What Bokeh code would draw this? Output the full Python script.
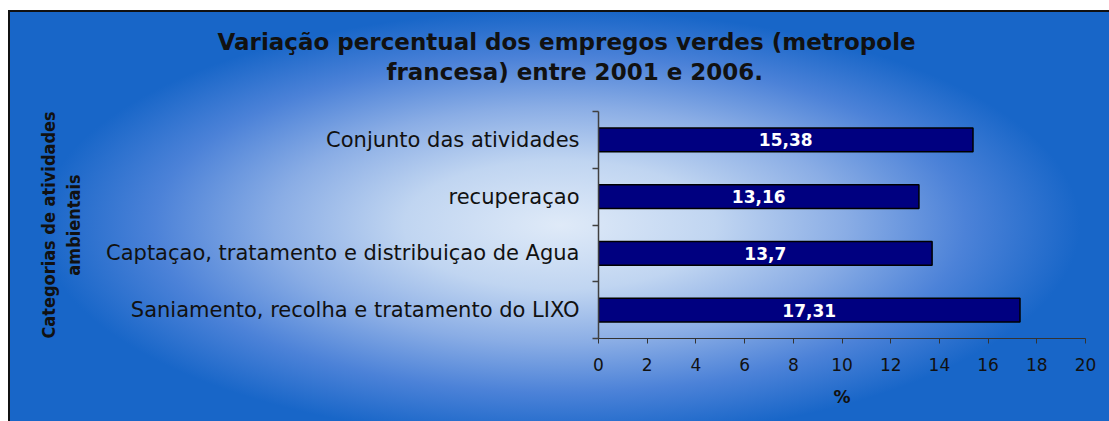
import math
from bokeh.plotting import figure
from bokeh.models import Range1d, FixedTicker, Title, ColumnDataSource
from bokeh.embed import file_html
from bokeh.resources import INLINE
from bokeh.core.properties import value

# ---- data ----
categories = [
    "Conjunto das atividades",
    "recuperaçao",
    "Captaçao, tratamento e distribuiçao de Agua",
    "Saniamento, recolha e tratamento do LIXO",
]
values = [15.38, 13.16, 13.7, 17.31]
value_labels = ["15,38", "13,16", "13,7", "17,31"]
x_ticks = [0, 2, 4, 6, 8, 10, 12, 14, 16, 18, 20]
title_lines = ["Variação percentual dos empregos verdes (metropole",
               "francesa) entre 2001 e 2006."]
y_title = "Categorias de atividades\nambientais"
x_title = "%"

n = len(categories)
ys = [n - 0.5 - i for i in range(n)]
src = ColumnDataSource(dict(y=ys, v=values, half=[v / 2 for v in values], lab=value_labels))

FONT = "DejaVu Sans"

p = figure(width=1101, height=411, output_backend="svg", toolbar_location=None,
           x_range=Range1d(0, 20), y_range=Range1d(0, n),
           min_border_left=590, min_border_right=24, min_border_top=101, min_border_bottom=83)
p.background_fill_alpha = 0
p.border_fill_alpha = 0
p.outline_line_color = None
p.xgrid.visible = False
p.ygrid.visible = False
p.styles = {
    "background-image": "radial-gradient(ellipse 520px 215px at 552px 215px, #dfeaf8 0%, #c0d5f1 30%, #8aade5 55%, #4c82d8 78%, #1866c8 100%)",
    "background-color": "#1866c8",
    "box-shadow": "inset 2px 2px 0 #111111",
    "margin-top": "10px",
    "margin-left": "8px",
}

p.hbar(y="y", right="v", left=0, height=0.42, fill_color="#000080",
       line_color="#000000", line_width=1.5, source=src)
p.text(x="half", y="y", text="lab", text_color="white", text_font=value(FONT),
       text_font_style="bold", text_font_size="17px", text_align="center",
       text_baseline="middle", source=src)

ya = p.yaxis[0]
ya.ticker = FixedTicker(ticks=ys, minor_ticks=list(range(n + 1)))
ya.major_label_overrides = {y: c for y, c in zip(ys, categories)}
ya.major_tick_out = 0
ya.major_tick_in = 0
ya.minor_tick_out = 6
ya.minor_tick_in = 0
ya.minor_tick_line_color = "#404040"
ya.minor_tick_line_width = 1.5
ya.axis_line_color = "#404040"
ya.axis_line_width = 1.5
ya.major_label_standoff = 13
ya.major_label_text_font = FONT
ya.major_label_text_font_size = "21px"
ya.major_label_text_color = "#111111"
ya.axis_label = y_title
ya.axis_label_text_font = "'Liberation Sans Narrow', 'DejaVu Sans Condensed', 'Arial Narrow', sans-serif"
ya.axis_label_text_font_style = "bold"
ya.axis_label_text_font_size = "18px"
ya.axis_label_text_color = "#111111"
ya.axis_label_standoff = 19

xa = p.xaxis[0]
xa.ticker = FixedTicker(ticks=x_ticks)
xa.major_tick_out = 5
xa.major_tick_in = 0
xa.minor_tick_out = 0
xa.major_tick_line_color = "#333333"
xa.axis_line_color = "#333333"
xa.major_label_standoff = 14
xa.major_label_text_font = FONT
xa.major_label_text_font_size = "17px"
xa.major_label_text_color = "#111111"
xa.axis_label = x_title
xa.axis_label_text_font = FONT
xa.axis_label_text_font_style = "bold"
xa.axis_label_text_font_size = "17px"
xa.axis_label_text_color = "#111111"
xa.axis_label_standoff = 13

# Title lines as stacked titles (line 2 nearest the frame)
t2 = Title(text=title_lines[1], align="left", offset=-212, standoff=53,
           text_font=FONT, text_font_style="bold", text_font_size="23px", text_color="#111111")
t1 = Title(text=title_lines[0], align="left", offset=-381, standoff=-48,
           text_font=FONT, text_font_style="bold", text_font_size="23px", text_color="#111111")
p.add_layout(t2, "above")
p.add_layout(t1, "above")

open("out.html", "w").write(file_html(p, INLINE))
